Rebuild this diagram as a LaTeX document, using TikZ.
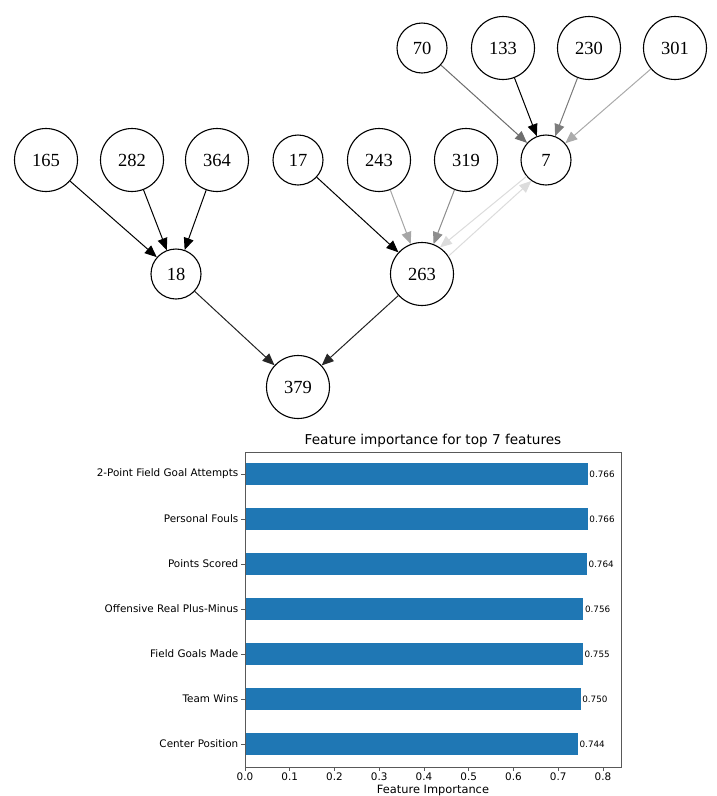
\documentclass[tikz,border=0pt]{standalone}
\usepackage{fontspec}
\setmainfont{Liberation Serif}
\newfontfamily\dejavu{DejaVu Sans}
\usetikzlibrary{arrows.meta}
\definecolor{barblue}{HTML}{1F77B4}
\definecolor{eA}{HTML}{6E6E6E}
\definecolor{eB}{HTML}{7C7C7C}
\definecolor{eC}{HTML}{ABABAB}
\definecolor{eD}{HTML}{A6A6A6}
\definecolor{eE}{HTML}{8E8E8E}
\definecolor{eF}{HTML}{DCDCDC}
\begin{document}
\begin{tikzpicture}[x=1pt,y=-1pt,
  gnode/.style={circle,draw,line width=1.1pt,inner sep=0pt,font=\fontsize{18.5}{18}\selectfont},
  smallnode/.style={gnode,minimum size=50pt},
  bignode/.style={gnode,minimum size=63pt},
  edge/.style={line width=1pt,-{Triangle[length=12pt,width=10pt]}},
  ticklab/.style={font=\dejavu\fontsize{10.4}{12}\selectfont,inner sep=0pt},
  vallab/.style={font=\dejavu\fontsize{8.8}{10}\selectfont,inner sep=0pt,anchor=west},
  axisline/.style={line width=0.9pt,draw=black!65},
]
\useasboundingbox (0,0) rectangle (716,796);

% ---------- graph ----------
\node[smallnode] (n70)  at (422,48)  {70};
\node[bignode]   (n133) at (503,48)  {133};
\node[bignode]   (n230) at (589,48)  {230};
\node[bignode]   (n301) at (675,48)  {301};
\node[bignode]   (n165) at (46,160)  {165};
\node[bignode]   (n282) at (132,160) {282};
\node[bignode]   (n364) at (217,160) {364};
\node[smallnode] (n17)  at (298,160) {17};
\node[bignode]   (n243) at (379,160) {243};
\node[bignode]   (n319) at (466,160) {319};
\node[smallnode] (n7)   at (546,160) {7};
\node[smallnode] (n18)  at (176,274) {18};
\node[bignode]   (n263) at (422,274) {263};
\node[bignode]   (n379) at (298,387) {379};

\draw[edge,draw=eA,fill=eA] (n70) -- (n7);
\draw[edge,draw=black,fill=black] (n133) -- (n7);
\draw[edge,draw=eB,fill=eB] (n230) -- (n7);
\draw[edge,draw=eC,fill=eC] (n301) -- (n7);

\draw[edge] (n165) -- (n18);
\draw[edge] (n282) -- (n18);
\draw[edge] (n364) -- (n18);

\draw[edge] (n17) -- (n263);
\draw[edge,draw=eD,fill=eD] (n243) -- (n263);
\draw[edge,draw=eE,fill=eE] (n319) -- (n263);
\draw[edge,draw=eF,fill=eF] (n7.220) -- (n263.56);
\draw[edge,draw=eF,fill=eF] (n263.34) -- (n7.235);

\draw[edge,draw=black!85,fill=black!85] (n18) -- (n379);
\draw[edge,draw=black!85,fill=black!85] (n263) -- (n379);

% ---------- bar chart ----------
\node[font=\dejavu\fontsize{13.6}{15}\selectfont] (title) at (433,440.5) {Feature importance for top 7 features};

\foreach \v/\y/\lab in {0.766/474/2-Point Field Goal Attempts,
                         0.766/519/Personal Fouls,
                         0.764/564/Points Scored,
                         0.756/609/Offensive Real Plus-Minus,
                         0.755/654/Field Goals Made,
                         0.750/699/Team Wins,
                         0.744/744/Center Position}{
  \fill[barblue] (245,\y-11.25) rectangle ({245+\v*447.5},\y+11.25);
  \node[vallab] at ({245+\v*447.5+1.5},\y) {\v};
  \draw[axisline] (241,\y) -- (245,\y);
  \node[ticklab,anchor=east] at (238.5,\y) {\lab};
}

\foreach \t in {0.0,0.1,0.2,0.3,0.4,0.5,0.6,0.7,0.8}{
  \draw[axisline] ({245+\t*447.5},767) -- ({245+\t*447.5},771);
  \node[ticklab,anchor=north] at ({245+\t*447.5},772.5) {\t};
}
\draw[axisline] (245,452) rectangle (621,767);

\node[font=\dejavu\fontsize{11.4}{13}\selectfont,inner sep=0pt] (xlab) at (433,790.5) {Feature Importance};
\end{tikzpicture}
\end{document}
